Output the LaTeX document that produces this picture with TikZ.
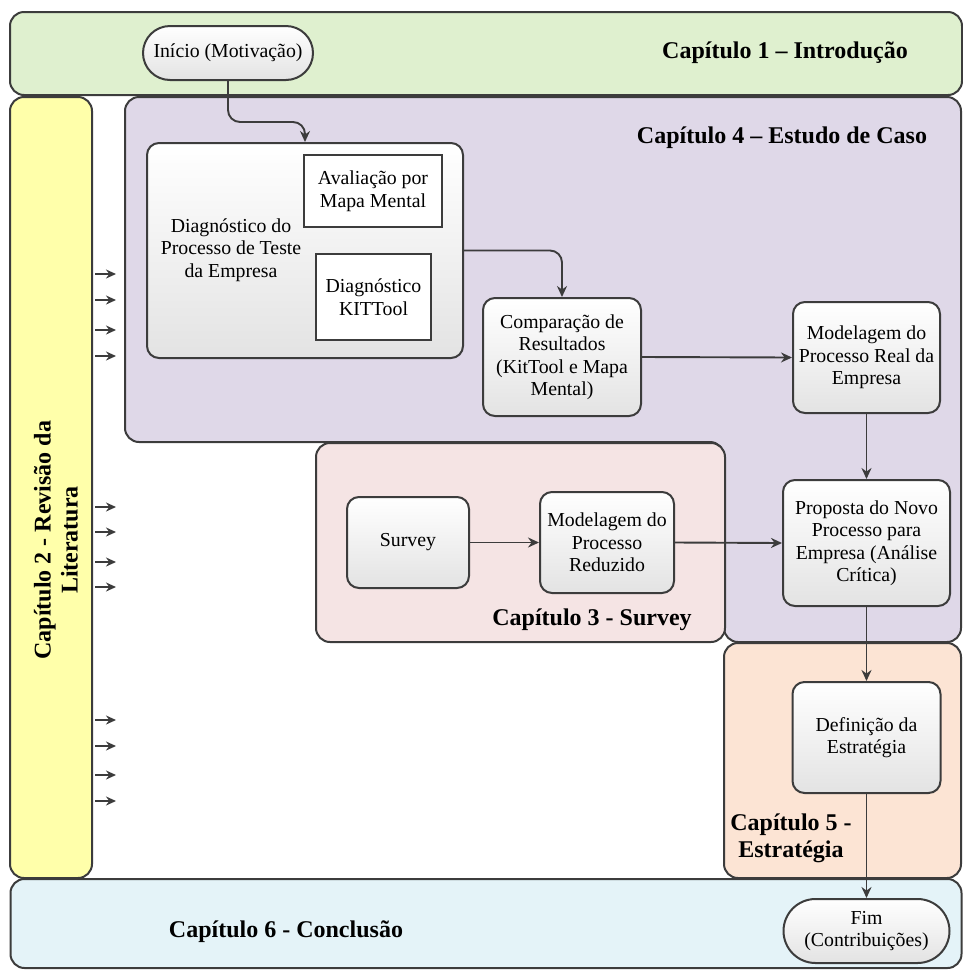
\documentclass[tikz,border=0pt]{standalone}
\usepackage{fontspec}
\setmainfont{Liberation Serif}
\usetikzlibrary{arrows.meta,shapes.misc}
\definecolor{linec}{HTML}{3C3C3C}
\definecolor{cgreen}{HTML}{DFF0CF}
\definecolor{cpurple}{HTML}{DFD8E8}
\definecolor{cyellow}{HTML}{FFFFAA}
\definecolor{cpink}{HTML}{F5E4E4}
\definecolor{corange}{HTML}{FCE4D4}
\definecolor{cblue}{HTML}{E4F3F8}
\tikzset{
  chap/.style={draw=linec, line width=2pt, rounded corners=14pt, inner sep=0pt},
  proc/.style={draw=linec, line width=2pt, rounded corners=12pt, top color=white, bottom color=gray!22, align=center, inner sep=2pt, font=\fontsize{19.8}{22.5}\selectfont},
  pill/.style={draw=linec, line width=2pt, rounded rectangle, top color=white, bottom color=gray!22, align=center, inner sep=2pt, font=\fontsize{19.8}{22.5}\selectfont},
  sub/.style={draw=linec, line width=2pt, fill=white, align=center, inner sep=2pt, font=\fontsize{19.8}{22.5}\selectfont},
  plain/.style={align=center, inner sep=0pt, font=\fontsize{19.8}{22.5}\selectfont},
  title/.style={align=center, inner sep=0pt, font=\fontsize{24}{27}\selectfont\bfseries},
  arr/.style={draw=linec, line width=1.9pt, rounded corners=12pt, -{Stealth[length=11pt,width=10pt]}},
  tick/.style={draw=linec, line width=1.8pt, -{Stealth[length=10pt,width=9pt]}}
}
\begin{document}
\begin{tikzpicture}[x=1pt,y=-1pt]
\useasboundingbox (0,0) rectangle (963,970);
% chapter areas
\node[chap, fill=cgreen, minimum width=952pt, minimum height=83pt] (ch1) at (486,53.5) {};
\node[chap, fill=cyellow, minimum width=82pt, minimum height=781pt] (ch2) at (51,487.5) {};
\draw[chap, fill=cpurple] (125,97) -- (961,97) -- (961,642) -- (724,642) -- (724,442) -- (125,442) -- cycle;
\node[chap, fill=cpink, minimum width=409pt, minimum height=199pt] (ch3) at (520.5,542.5) {};
\node[chap, fill=corange, minimum width=237pt, minimum height=235pt] (ch5) at (842.5,760.5) {};
\node[chap, fill=cblue, minimum width=951pt, minimum height=89pt] (ch6) at (486,923.5) {};
% titles
\node[title] (t1) at (785,53) {Capítulo 1 – Introdução};
\node[title] (t4) at (782,138) {Capítulo 4 – Estudo de Caso};
\node[title] (t3) at (592,620) {Capítulo 3 - Survey};
\node[title] (t5) at (791,838) {Capítulo 5 -\\Estratégia};
\node[title] (t6) at (286,932) {Capítulo 6 - Conclusão};
\node[title, rotate=90] (t2) at (56,540) {Capítulo 2 - Revisão da\\Literatura};
% process nodes
\node[pill, minimum width=174pt, minimum height=54pt] (inicio) at (228,53) {Início (Motivação)};
\node[proc, minimum width=316pt, minimum height=215pt] (diag) at (305,250.5) {};
\node[plain] (diagt) at (231,250) {Diagnóstico do\\Processo de Teste\\da Empresa};
\node[sub, minimum width=138pt, minimum height=72pt] (aval) at (373,191) {Avaliação por\\Mapa Mental};
\node[sub, minimum width=115pt, minimum height=86pt] (kit) at (373.5,297) {Diagnóstico\\KITTool};
\node[proc, minimum width=158pt, minimum height=118pt] (comp) at (562,357) {Comparação de\\Resultados\\(KitTool e Mapa\\Mental)};
\node[proc, minimum width=147pt, minimum height=111pt] (model) at (866.5,357.5) {Modelagem do\\Processo Real da\\Empresa};
\node[proc, minimum width=167pt, minimum height=126pt] (prop) at (866.5,543) {Proposta do Novo\\Processo para\\Empresa (Análise\\Crítica)};
\node[proc, minimum width=122pt, minimum height=91pt] (survey) at (408,542.5) {Survey};
\node[proc, minimum width=134pt, minimum height=101pt] (reduz) at (607,542.5) {Modelagem do\\Processo\\Reduzido};
\node[proc, minimum width=148pt, minimum height=111pt] (defin) at (866.5,737.5) {Definição da\\Estratégia};
\node[pill, minimum width=170pt, minimum height=64pt] (fim) at (866.5,931) {Fim\\(Contribuições)};
% connectors
\coordinate (c1) at (305,122);
\draw[arr] (inicio.south) |- (c1) -- (c1 |- diag.north);
\draw[arr] (diag.east) -| (comp.north);
\draw[arr] (comp.east) -- (model.west);
\draw[arr] (model.south) -- (prop.north);
\draw[arr] (survey.east) -- (reduz.west);
\draw[arr] (reduz.east) -- (prop.west);
\draw[arr] (prop.south) -- (defin.north);
\draw[arr] (defin.south) -- (fim.north);
% literature input ticks
\foreach \yy in {274,300,330,356,507,532,562,587,720,746,775,801}{
  \draw[tick] (ch2.east |- 0,\yy) ++(2,0) -- ++(21,0);
}
\end{tikzpicture}
\end{document}
